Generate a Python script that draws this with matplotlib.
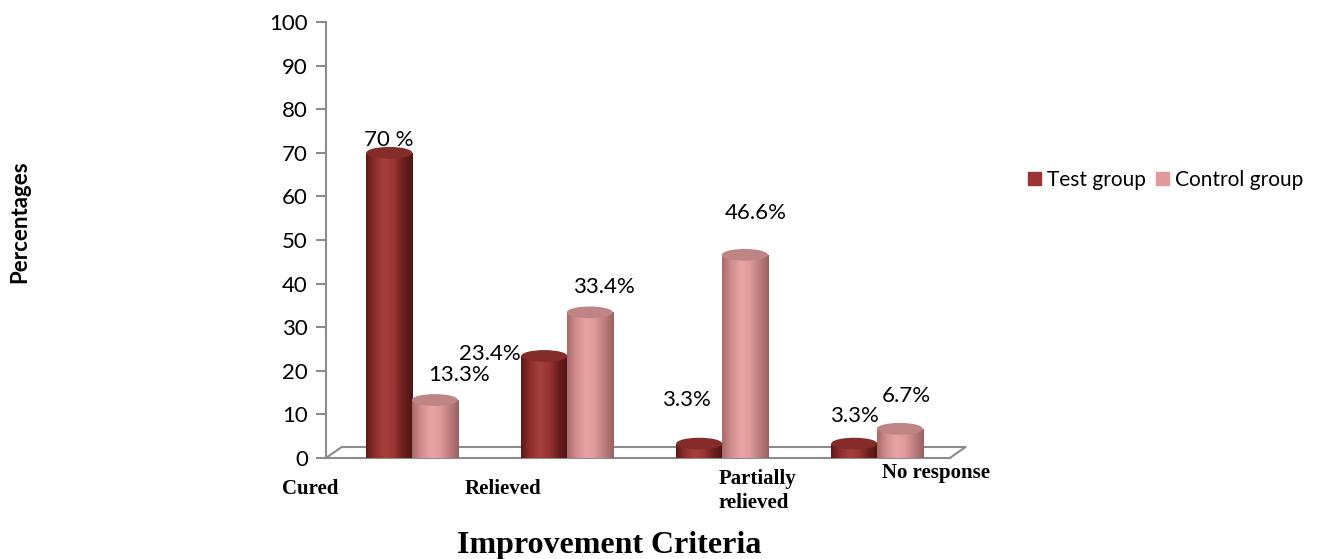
import matplotlib.pyplot as plt
import numpy as np
from matplotlib.patches import Rectangle, Ellipse, Patch
from matplotlib.colors import LinearSegmentedColormap

# data
categories = ['Cured', 'Relieved', 'Partially\nrelieved', 'No response']
test_group = [70, 23.4, 3.3, 3.3]
control_group = [13.3, 33.4, 46.6, 6.7]
test_labels = ['70 %', '23.4%', '3.3%', '3.3%']
control_labels = ['13.3%', '33.4%', '46.6%', '6.7%']
y_ticks = [0, 10, 20, 30, 40, 50, 60, 70, 80, 90, 100]

# label offsets (dx in category units, dy in value units) - hand placed like in Excel
test_lab_off = [(0.0, 2.9), (-0.35, 0.5), (-0.085, 10.0), (0.0, 6.3)]
ctrl_lab_off = [(0.155, 5.7), (0.09, 5.8), (0.07, 9.6), (0.045, 7.5)]
# x-label positions
xlab_x = [-0.66, 0.587, 1.975, 3.38]
xlab_y = [-7.1, -7.1, -7.6, -3.4]

cmap_test = LinearSegmentedColormap.from_list('t', ['#5e1a18', '#8f2f2c', '#a63f3b', '#9a3532', '#6a201e', '#4f1513'])
cmap_ctrl = LinearSegmentedColormap.from_list('c', ['#a86a6a', '#d38e8e', '#e8a4a4', '#df9a9a', '#bd7d7d', '#9a6060'])

fig = plt.figure(figsize=(13.26, 5.59), dpi=100)
xl, xr = -0.555, 3.57
ax = fig.add_axes([326 / 1326, 101 / 559, (xr - xl) * 155 / 1326, 436 / 559])

width = 0.297
cap = 2.7  # ellipse height in value units
grad = np.linspace(0, 1, 200).reshape(1, -1)


def cylinder(xc, h, cmap, capcol):
    x0 = xc - width / 2
    im = ax.imshow(grad, cmap=cmap, extent=[x0, x0 + width, -cap, h], aspect='auto', zorder=3)
    im.set_clip_path(Rectangle((x0, 0), width, h, transform=ax.transData))
    im2 = ax.imshow(grad, cmap=cmap, extent=[x0, x0 + width, -cap, h], aspect='auto', zorder=3)
    im2.set_clip_path(Ellipse((xc, 0), width, cap, transform=ax.transData))
    ax.add_patch(Ellipse((xc, h), width, cap, facecolor=capcol, edgecolor='none', zorder=4, clip_on=False))


x = np.arange(len(categories))
for i in range(len(categories)):
    cylinder(x[i] - 0.147, test_group[i], cmap_test, '#832c29')
    cylinder(x[i] + 0.147, control_group[i], cmap_ctrl, '#bf8585')
    ax.text(x[i] - 0.147 + test_lab_off[i][0], test_group[i] + test_lab_off[i][1], test_labels[i],
            ha='center', va='center', fontsize=16, family='Lato', zorder=5)
    ax.text(x[i] + 0.147 + ctrl_lab_off[i][0], control_group[i] + ctrl_lab_off[i][1], control_labels[i],
            ha='center', va='center', fontsize=16, family='Lato', zorder=5)
    ax.text(xlab_x[i], xlab_y[i], categories[i], ha='left' if i == 2 else 'center', va='center',
            fontsize=15, family='Liberation Serif', fontweight='bold', linespacing=1.3)

# floor of the 3D box
gray = '#8c8c8c'
dxf, dyf = 0.1, 2.5
ax.plot([xl, xr - dxf], [0, 0], color=gray, lw=1.5, zorder=2, clip_on=False)
ax.plot([xl, xl + dxf], [0, dyf], color=gray, lw=1.5, zorder=2, clip_on=False)
ax.plot([xl + dxf, xr], [dyf, dyf], color=gray, lw=1.5, zorder=2, clip_on=False)
ax.plot([xr - dxf, xr], [0, dyf], color=gray, lw=1.5, zorder=2, clip_on=False)

ax.set_xlim(xl, xr)
ax.set_ylim(0, 100)
ax.set_yticks(y_ticks)
ax.set_yticklabels([str(v) for v in y_ticks], fontsize=16, family='Lato')
ax.set_xticks([])
for s in ['top', 'right', 'bottom']:
    ax.spines[s].set_visible(False)
ax.spines['left'].set_color(gray)
ax.spines['left'].set_linewidth(1.5)
ax.tick_params(axis='y', direction='out', length=7, width=1.5, color=gray, pad=6)

fig.text(20 / 1326, 1 - 222 / 559, 'Percentages', rotation=90, ha='center', va='center',
         fontsize=16, fontweight='bold', family='Lato')
fig.text(609 / 1326, 1 - 545 / 559, 'Improvement Criteria', ha='center', va='center',
         fontsize=23, fontweight='bold', family='Liberation Serif')

handles = [Patch(color='#9b3532', label='Test group'), Patch(color='#e09a9a', label='Control group')]
fig.legend(handles=handles, loc='center left', bbox_to_anchor=(1024 / 1326, 1 - 180 / 559), ncol=2,
           frameon=False, handlelength=0.6, handleheight=0.6, columnspacing=0.5, handletextpad=0.3,
           prop={'family': 'Lato', 'size': 15}, borderaxespad=0, borderpad=0.2)

fig.savefig('out.png', dpi=100)
